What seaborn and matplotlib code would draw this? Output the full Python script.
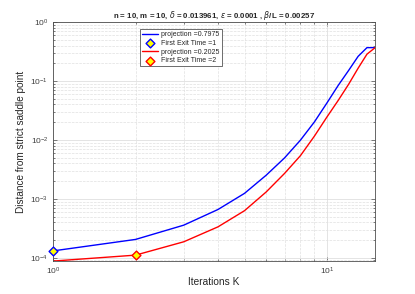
import numpy as np
import pandas as pd
import matplotlib
matplotlib.use("Agg")
import matplotlib.pyplot as plt
import seaborn as sns

# Data
iterations = [1, 2, 3, 4, 5, 6, 7, 8, 9, 10, 11, 12, 13, 14, 15]
dist_blue = [1.31e-4, 2.05e-4, 3.58e-4, 6.6e-4, 1.24e-3, 2.52e-3, 4.95e-3, 9.9e-3,
             0.0202, 0.0424, 0.0845, 0.151, 0.262, 0.368, 0.368]
dist_red = [8.8e-5, 1.11e-4, 1.87e-4, 3.35e-4, 6.3e-4, 1.31e-3, 2.7e-3, 5.4e-3,
            0.0116, 0.0245, 0.047, 0.088, 0.165, 0.285, 0.368]
exit_blue = 1
exit_red = 2
proj_blue = 0.7975
proj_red = 0.2025

df = pd.DataFrame({"K": iterations, "blue": dist_blue, "red": dist_red})

sns.set_style("ticks")
plt.rcParams["font.family"] = ["Liberation Sans", "DejaVu Sans"]
plt.rcParams["mathtext.fontset"] = "dejavusans"

fig = plt.figure(figsize=(4.15, 2.94), dpi=100)
ax = fig.add_axes([0.128, 0.112, 0.776, 0.813])

sns.lineplot(data=df, x="K", y="blue", color="blue", lw=1.0, ax=ax,
             label="projection =" + str(proj_blue))
sns.scatterplot(x=[exit_blue], y=[dist_blue[exit_blue - 1]], marker="D", s=20,
                color="yellow", edgecolor="blue", linewidth=1.0, ax=ax, zorder=5,
                clip_on=False, label="First Exit Time =" + str(exit_blue))
sns.lineplot(data=df, x="K", y="red", color="red", lw=1.0, ax=ax,
             label="projection =" + str(proj_red))
sns.scatterplot(x=[exit_red], y=[dist_red[exit_red - 1]], marker="D", s=20,
                color="yellow", edgecolor="red", linewidth=1.0, ax=ax, zorder=5,
                clip_on=False, label="First Exit Time =" + str(exit_red))

ax.set_xscale("log")
ax.set_yscale("log")
ax.set_xlim(1, 15)
ax.set_ylim(dist_red[0], 1)

ax.grid(True, which="major", color="0.85", lw=0.5)
ax.grid(True, which="minor", color="0.88", lw=0.5, ls="--")
for s in ax.spines.values():
    s.set_color("0.3")
    s.set_linewidth(0.6)
ax.tick_params(which="both", direction="in", top=True, right=True, color="0.3",
               labelsize=6, labelcolor="0.25", width=0.5)
ax.tick_params(which="major", length=3)
ax.tick_params(which="minor", length=1.5)

ax.set_xlabel("Iterations K", fontsize=7.3, color="0.15", labelpad=0)
ax.set_ylabel("Distance from strict saddle point", fontsize=7.2, color="0.15", labelpad=3)
ax.set_title(r"n = 10, m = 10, $\delta$ = 0.013961, $\epsilon$ = 0.0001 , $\beta$/L = 0.00257",
             fontsize=5.7, fontweight="bold", pad=3)

h, l = ax.get_legend_handles_labels()
order = [l.index("projection =0.7975"), l.index("First Exit Time =1"),
         l.index("projection =0.2025"), l.index("First Exit Time =2")]
leg = ax.legend([h[i] for i in order], [l[i] for i in order],
                loc="upper left", bbox_to_anchor=(0.26, 0.985), fontsize=5,
                fancybox=False, framealpha=1, edgecolor="0.2",
                handlelength=2.2, handletextpad=0.5, borderpad=0.3,
                labelspacing=0.25)
leg.get_frame().set_linewidth(0.5)

fig.savefig("out.png", dpi=100)
